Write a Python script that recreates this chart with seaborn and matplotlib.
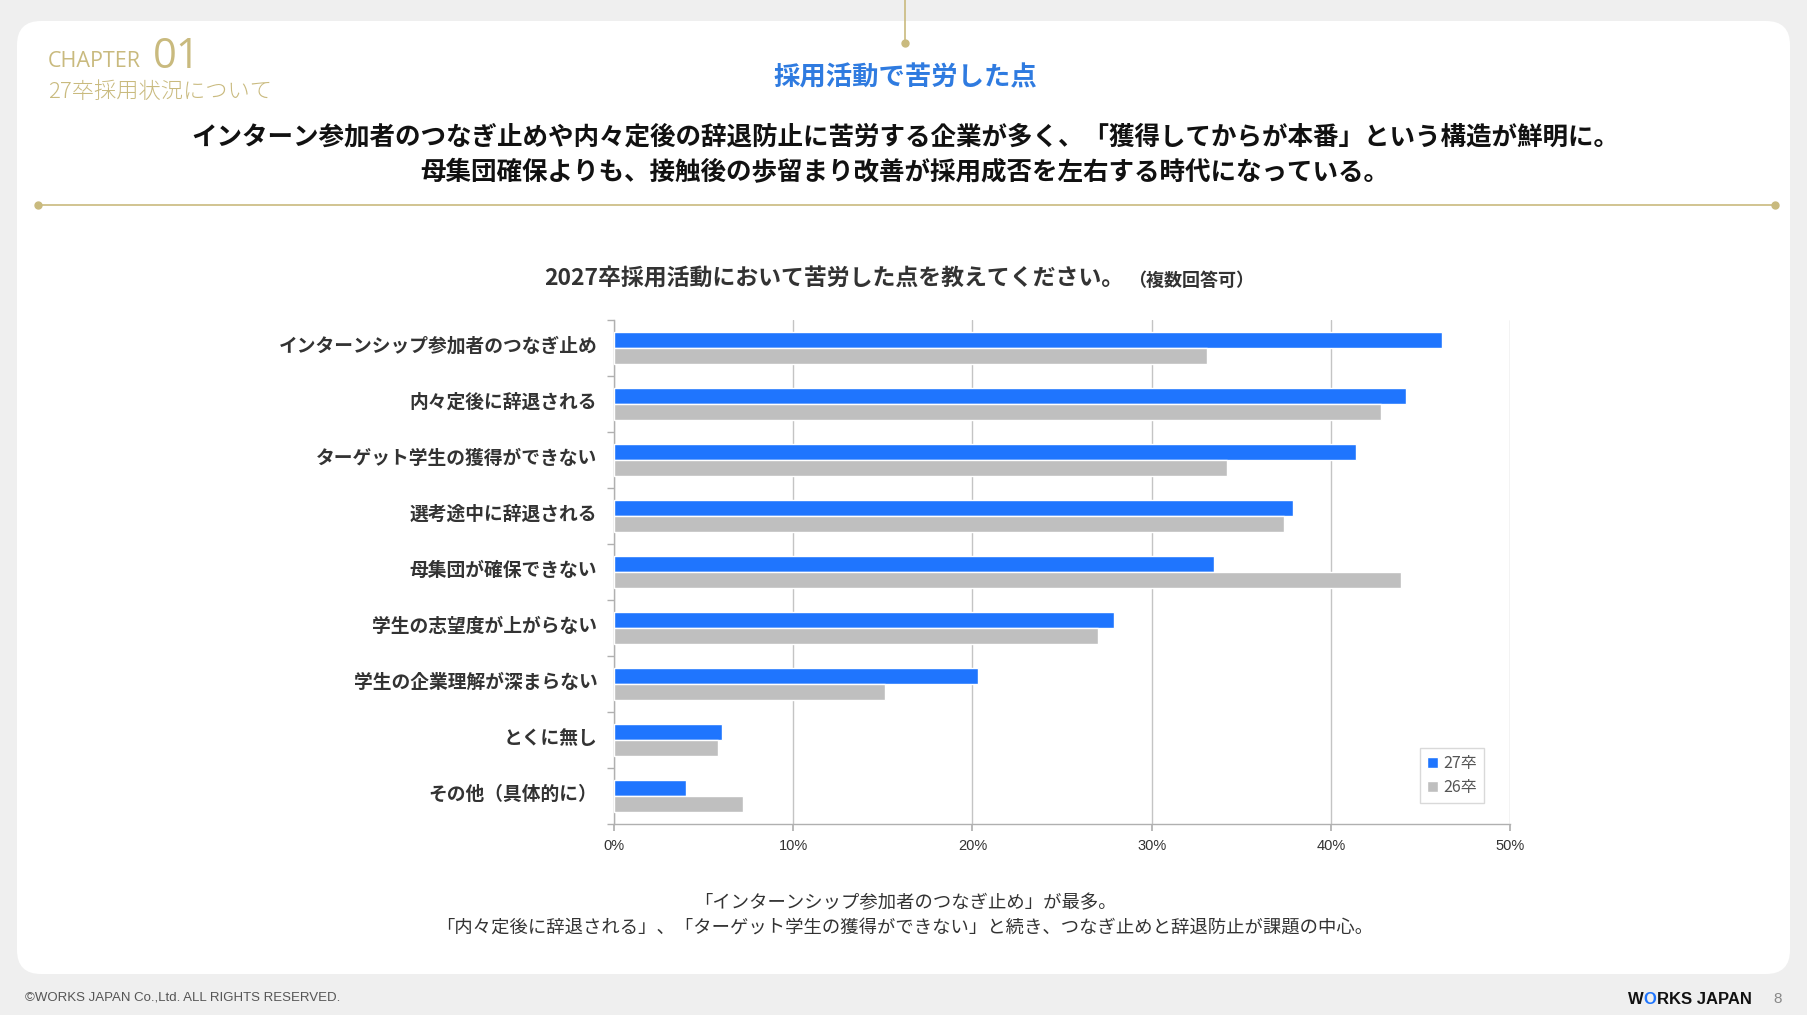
import pandas as pd
import seaborn as sns
import matplotlib.pyplot as plt
import matplotlib.transforms as mtransforms
from matplotlib.patches import FancyBboxPatch
from matplotlib.ticker import FixedLocator, PercentFormatter

# データ
categories = [
    'インターンシップ参加者のつなぎ止め',
    '内々定後に辞退される',
    'ターゲット学生の獲得ができない',
    '選考途中に辞退される',
    '母集団が確保できない',
    '学生の志望度が上がらない',
    '学生の企業理解が深まらない',
    'とくに無し',
    'その他（具体的に）',
]
vals_27 = [46.2, 44.2, 41.4, 37.9, 33.5, 27.9, 20.3, 6.0, 4.0]
vals_26 = [33.1, 42.8, 34.2, 37.4, 43.9, 27.0, 15.1, 5.8, 7.2]
series = ['27卒', '26卒']
xticks = [0, 10, 20, 30, 40, 50]

df = pd.DataFrame({
    'item': categories * 2,
    'value': vals_27 + vals_26,
    'year': [series[0]] * len(categories) + [series[1]] * len(categories),
})

BLUE = '#1f75fe'
GRAY = '#bfbfbf'
GOLD = '#c9ba7e'
TEXT = '#333333'

sns.set_theme(style='white')
plt.rcParams['font.family'] = ['Noto Sans CJK JP', 'DejaVu Sans']

fig = plt.figure(figsize=(18.07, 10.15), dpi=100, facecolor='#efefef')

# 背景（ピクセル座標）
bg = fig.add_axes([0, 0, 1, 1], zorder=0)
bg.set_xlim(0, 1807)
bg.set_ylim(1015, 0)
bg.axis('off')

r = 24
card = FancyBboxPatch((17 + r, 21 + r), 1790 - 17 - 2 * r, 974 - 21 - 2 * r,
                      boxstyle=f'round,pad={r}', fc='white', ec='none')
bg.add_patch(card)

# 飾り線
bg.plot([905, 905], [0, 43], color=GOLD, lw=1.2)
bg.plot([905], [43], 'o', color=GOLD, ms=5)
bg.plot([38, 1775], [205, 205], color=GOLD, lw=1.2)
bg.plot([38, 1775], [205, 205], 'o', color=GOLD, ms=5)

# 見出し
bg.text(48, 67, 'CHAPTER', color=GOLD, fontsize=15.5, ha='left', va='baseline',
        family=['Open Sans', 'DejaVu Sans'])
bg.text(153, 68, '01', color=GOLD, fontsize=30, ha='left', va='baseline',
        family=['Open Sans', 'DejaVu Sans'])
bg.text(48, 92, '27卒採用状況について', color=GOLD, fontsize=16,
        fontweight='light', ha='left', va='center')

bg.text(905, 78, '採用活動で苦労した点', color='#2f7be0', fontsize=19,
        fontweight='bold', ha='center', va='center')
bg.text(905, 137, 'インターン参加者のつなぎ止めや内々定後の辞退防止に苦労する企業が多く、「獲得してからが本番」という構造が鮮明に。',
        color='#111111', fontsize=18.4, fontweight='bold', ha='center', va='center')
bg.text(905, 173, '母集団確保よりも、接触後の歩留まり改善が採用成否を左右する時代になっている。',
        color='#111111', fontsize=18.4, fontweight='bold', ha='center', va='center')

# グラフタイトル
bg.text(1124, 279, '2027卒採用活動において苦労した点を教えてください。', color=TEXT,
        fontsize=16.5, fontweight='bold', ha='right', va='center')
bg.text(1128, 280, '（複数回答可）', color=TEXT, fontsize=13,
        fontweight='bold', ha='left', va='center')

# 下部コメント
bg.text(905, 903, '「インターンシップ参加者のつなぎ止め」が最多。', color=TEXT,
        fontsize=13.2, ha='center', va='center')
bg.text(905, 928, '「内々定後に辞退される」、「ターゲット学生の獲得ができない」と続き、つなぎ止めと辞退防止が課題の中心。',
        color=TEXT, fontsize=13.2, ha='center', va='center')

# フッター
bg.text(25, 998, '©WORKS JAPAN Co.,Ltd. ALL RIGHTS RESERVED.', color='#555555',
        fontsize=9.5, ha='left', va='center', family=['Liberation Sans', 'DejaVu Sans'])
w1 = bg.text(1628, 1000, 'W', color='#111111', fontsize=12, fontweight='bold',
             ha='left', va='center', family=['Liberation Sans', 'DejaVu Sans'])
w2 = bg.annotate('O', xy=(1, 0.5), xycoords=w1, color=BLUE, fontsize=12,
                 fontweight='bold', ha='left', va='center',
                 family=['Liberation Sans', 'DejaVu Sans'])
bg.annotate('RKS JAPAN', xy=(1, 0.5), xycoords=w2, color='#111111', fontsize=12,
            fontweight='bold', ha='left', va='center',
            family=['Liberation Sans', 'DejaVu Sans'])
bg.text(1778, 999, '8', color='#888888', fontsize=11, ha='center', va='center',
        family=['Liberation Sans', 'DejaVu Sans'])

# 棒グラフ
ax = fig.add_axes([614 / 1807, 1 - 824 / 1015, (1510 - 614) / 1807, (824 - 320) / 1015],
                  zorder=1)
ax.set_facecolor('none')
sns.barplot(data=df, x='value', y='item', hue='year', hue_order=series,
            palette=[BLUE, GRAY], orient='h', width=0.57, ax=ax,
            saturation=1, errorbar=None, zorder=3)

ax.set_xlim(0, 50)
ax.set_ylim(len(categories) - 0.5, -0.5)
ax.set_xlabel('')
ax.set_ylabel('')
ax.xaxis.set_major_locator(FixedLocator(xticks))
ax.xaxis.set_major_formatter(PercentFormatter(decimals=0))
ax.grid(axis='x', color='#c4c4c4', lw=1, zorder=0)
ax.grid(axis='y', visible=False)

for s in ['top', 'right']:
    ax.spines[s].set_visible(False)
for s in ['left', 'bottom']:
    ax.spines[s].set_color('#b0b0b0')
    ax.spines[s].set_linewidth(1)

ax.tick_params(axis='x', length=5, color='#b0b0b0', labelsize=10.5,
               labelcolor=TEXT, pad=6, bottom=True)
ax.tick_params(axis='y', which='major', length=0, pad=12, labelsize=13.5,
               labelcolor=TEXT)
ax.yaxis.set_minor_locator(FixedLocator([i - 0.5 for i in range(len(categories) + 1)]))
ax.tick_params(axis='y', which='minor', length=5, color='#b0b0b0', left=True)

# ラベルを少し上へ
shift = mtransforms.ScaledTranslation(0, 4 / 100, fig.dpi_scale_trans)
for lab in ax.get_yticklabels():
    lab.set_fontweight('bold')
    lab.set_transform(lab.get_transform() + shift)
for lab in ax.get_xticklabels():
    lab.set_family(['Liberation Sans', 'DejaVu Sans'])

handles, labels = ax.get_legend_handles_labels()
ax.legend(handles, labels, loc='lower right', bbox_to_anchor=(0.98, 0.025),
          fontsize=11.5, frameon=True, fancybox=False, edgecolor='#d0d0d0',
          handlelength=0.7, handleheight=0.7, handletextpad=0.3,
          borderpad=0.45, labelspacing=0.45, labelcolor='#555555')

fig.savefig('out.png', dpi=100, facecolor=fig.get_facecolor())
